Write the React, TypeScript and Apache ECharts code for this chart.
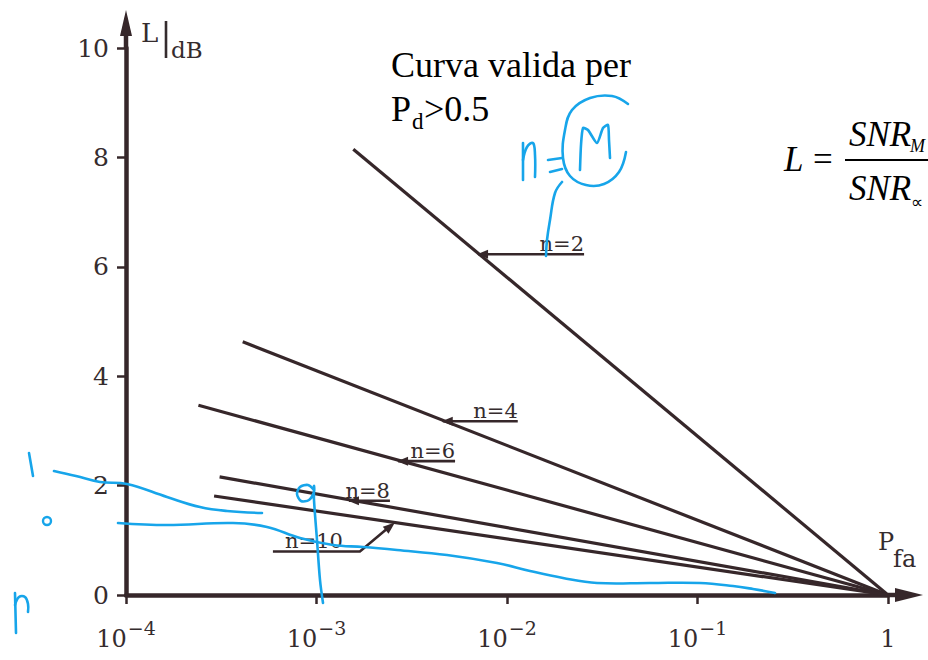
import React, { useEffect, useRef } from "react";
import * as echarts from "echarts";

// ---- data ----
const curveNames = ["n=2", "n=4", "n=6", "n=8", "n=10"];
const startPfa = [1.56e-3, 4.1e-4, 2.4e-4, 3.1e-4, 2.9e-4];
const startL = [8.15, 4.63, 3.47, 2.16, 1.81];
const endPfa = [1, 1, 1, 1, 1];
const endL = [0, 0, 0, 0, 0];
const arrowPfa = [7.05e-3, 4.6e-3, 2.68e-3, 1.48e-3, 2.58e-3];

const xTickExp = [-4, -3, -2, -1, 0];
const xTickBase = ["10", "10", "10", "10", "1"];
const xTickSup = ["−4", "−3", "−2", "−1", ""];
const yTicks = ["0", "2", "4", "6", "8", "10"];

const INK = "#36272a";
const LABEL = "#352c2e";
const BLUE = "#17a5ea";
const SLAB = "DejaVu Serif";
const TIMES = "Liberation Serif";

function arrowHead(tx: number, ty: number, dx: number, dy: number, len: number, hw: number) {
  const m = Math.hypot(dx, dy);
  const ux = dx / m, uy = dy / m;
  const nx = -uy, ny = ux;
  return {
    type: "polygon",
    shape: {
      points: [
        [tx, ty],
        [tx - ux * len + nx * hw, ty - uy * len + ny * hw],
        [tx - ux * len - nx * hw, ty - uy * len - ny * hw],
      ],
    },
    style: { fill: INK },
    z: 10,
  };
}

function blue(points: number[][], smooth = 0.4) {
  return {
    type: "polyline",
    shape: { points, smooth },
    style: { stroke: BLUE, lineWidth: 2.6, fill: "none", lineCap: "round", lineJoin: "round" },
    z: 20,
  };
}

// text placed by its baseline
function tb(x: number, baseline: number, text: string, fontSize: number, fontFamily: string, extra: any = {}) {
  return {
    type: "text",
    x,
    y: baseline - 0.33 * fontSize,
    style: { text, fontSize, fontFamily, fill: "#000", verticalAlign: "middle", ...extra },
    z: 10,
  };
}

export default function App() {
  const ref = useRef<HTMLDivElement>(null);
  useEffect(() => {
    if (!ref.current) return;
    const chart = echarts.init(ref.current, null, { renderer: "svg" });
    const series = curveNames.map((name, i) => ({
      name,
      type: "line",
      data: [
        [startPfa[i], startL[i]],
        [endPfa[i], endL[i]],
      ],
      symbol: "none",
      lineStyle: { color: INK, width: 3.2 },
      z: 3,
    }));
    chart.setOption({
      animation: false,
      backgroundColor: "#ffffff",
      grid: { left: 126, right: 40, top: 48, bottom: 65 },
      xAxis: {
        type: "log",
        logBase: 10,
        min: 1e-4,
        max: 1,
        splitLine: { show: false },
        axisLine: { lineStyle: { color: INK, width: 4.5 } },
        axisTick: { length: 9, lineStyle: { color: INK, width: 2.5 } },
        axisLabel: {
          margin: 20,
          color: LABEL,
          formatter: (v: number) => {
            const e = Math.round(Math.log10(v));
            const i = xTickExp.indexOf(e);
            if (i < 0) return "";
            return xTickSup[i] ? `{b|${xTickBase[i]}}{s|${xTickSup[i]}}` : `{b|${xTickBase[i]}}`;
          },
          rich: {
            b: { fontSize: 24, fontFamily: SLAB, color: LABEL, padding: [12, 0, 0, 0] },
            s: { fontSize: 19, fontFamily: SLAB, color: LABEL, padding: [0, 0, 10, 1] },
          },
        },
      },
      yAxis: {
        type: "value",
        min: 0,
        max: 10,
        interval: 2,
        splitLine: { show: false },
        axisLine: { show: true, lineStyle: { color: INK, width: 4.5 } },
        axisTick: { show: true, length: 9, lineStyle: { color: INK, width: 2.5 } },
        axisLabel: {
          margin: 17,
          fontSize: 25,
          fontFamily: SLAB,
          color: LABEL,
          formatter: (v: number) => yTicks[Math.round(v / 2)] ?? "",
        },
      },
      series,
    });

    const toPx = (p: number[]) => chart.convertToPixel({ gridIndex: 0 }, p) as number[];
    const o = toPx([1e-4, 0]);
    const xEnd = toPx([1, 0]);
    const yTop = toPx([1e-4, 10]);

    const g: any[] = [];
    // axis extensions with arrows
    g.push({ type: "line", shape: { x1: xEnd[0], y1: xEnd[1], x2: 905, y2: xEnd[1] }, style: { stroke: INK, lineWidth: 4.5 }, z: 10 });
    g.push(arrowHead(923, xEnd[1], 1, 0, 28, 7));
    g.push({ type: "line", shape: { x1: o[0], y1: yTop[1], x2: o[0], y2: 25 }, style: { stroke: INK, lineWidth: 4.5 }, z: 10 });
    g.push(arrowHead(o[0], 10, 0, -1, 26, 6));

    // curve labels with arrows
    const lens = [106, 75, 57, 41];
    const lab = { fill: LABEL, align: "right" };
    curveNames.forEach((name, i) => {
      const p0 = toPx([startPfa[i], startL[i]]);
      const p1 = toPx([endPfa[i], endL[i]]);
      const px = toPx([arrowPfa[i], 0])[0];
      const t = (px - p0[0]) / (p1[0] - p0[0]);
      const py = p0[1] + t * (p1[1] - p0[1]);
      if (i < 4) {
        const L = lens[i];
        g.push({ type: "line", shape: { x1: px, y1: py + 1, x2: px + L, y2: py + 1 }, style: { stroke: INK, lineWidth: 2.6 }, z: 10 });
        g.push(arrowHead(px - 1, py + 1, -1, 0, 11, 4.5));
        g.push(tb(px + L, py - 2, name, 21, SLAB, lab));
      } else {
        const ex = px - 35, ey = py + 29;
        g.push({ type: "polyline", shape: { points: [[px - 4, py + 3], [ex, ey], [px - 122, ey]] }, style: { stroke: INK, lineWidth: 2.6, fill: "none" }, z: 10 });
        g.push(arrowHead(px, py, 35, -29, 12, 4.5));
        g.push(tb(px - 52, ey - 4, name, 21, SLAB, lab));
      }
    });

    // axis titles
    g.push(tb(141, 42, "L", 26, SLAB, { fill: LABEL }));
    g.push({ type: "line", shape: { x1: 166, y1: 21, x2: 166, y2: 58 }, style: { stroke: LABEL, lineWidth: 2.6 }, z: 10 });
    g.push(tb(171, 58, "dB", 23, SLAB, { fill: LABEL }));
    g.push(tb(878, 550, "P", 24, SLAB, { fill: LABEL }));
    g.push(tb(893, 567, "fa", 24, SLAB, { fill: LABEL }));

    // typed notes
    g.push(tb(391, 77, "Curva valida per", 36, TIMES));
    g.push(tb(391, 121, "P", 36, TIMES));
    g.push(tb(412, 129, "d", 23, TIMES));
    g.push(tb(424, 121, ">0.5", 36, TIMES));

    // formula
    const it = { fontStyle: "italic" };
    g.push(tb(784, 171, "L", 35, TIMES, it));
    g.push(tb(813, 171, "=", 35, TIMES));
    g.push(tb(849, 146, "SNR", 35, TIMES, it));
    g.push(tb(910, 152, "M", 18, TIMES, it));
    g.push({ type: "line", shape: { x1: 845, y1: 160, x2: 930, y2: 160 }, style: { stroke: "#000", lineWidth: 1.8 }, z: 10 });
    g.push(tb(849, 200, "SNR", 35, TIMES, it));
    g.push(tb(911, 208, "∝", 17, TIMES));

    // handwritten blue marks
    g.push(blue([[54, 471], [76, 476], [100, 482], [127, 484], [167, 497], [200, 507], [227, 511], [262, 513]]));
    g.push(blue([[118, 523], [167, 525], [233, 523], [267, 527], [300, 538], [333, 545], [363, 547], [397, 550], [447, 555], [497, 563], [530, 571], [563, 578], [597, 583], [650, 583], [700, 583], [733, 586], [753, 589], [775, 593]]));
    g.push(blue([[314, 490], [308, 485], [300, 487], [297, 494], [301, 501], [309, 500], [314, 492], [314, 486], [314, 500], [317, 540], [320, 580], [323, 603]], 0.3));
    g.push(blue([[29, 453], [33, 476]], 0));
    g.push({ type: "ellipse", shape: { cx: 47, cy: 521, rx: 4, ry: 4 }, style: { stroke: BLUE, lineWidth: 2.4, fill: "none" }, z: 20 });
    g.push(blue([[15, 593], [16, 633]], 0));
    g.push(blue([[15, 605], [19, 597], [25, 597], [28, 604], [28, 612]], 0.4));
    // n = (M)
    g.push(blue([[523, 143], [523, 180]], 0));
    g.push(blue([[523, 160], [527, 147], [533, 143], [535, 155], [535, 177]], 0.4));
    g.push(blue([[548, 160], [562, 158]], 0));
    g.push(blue([[550, 172], [562, 169]], 0));
    g.push(blue([[628, 104], [612, 96], [590, 98], [572, 110], [565, 130], [563, 158], [570, 176], [586, 185], [604, 184], [619, 172], [626, 152]], 0.4));
    g.push(blue([[580, 170], [581, 145], [583, 128], [588, 130], [597, 143], [603, 128], [608, 125], [609, 140], [610, 158]], 0.2));
    g.push(blue([[562, 182], [555, 193], [550, 220], [547, 240], [546, 256]], 0.4));

    chart.setOption({ graphic: g });
    return () => chart.dispose();
  }, []);
  return <div ref={ref} style={{ position: "fixed", left: 0, top: 0, width: 928, height: 660, background: "#fff" }} />;
}
